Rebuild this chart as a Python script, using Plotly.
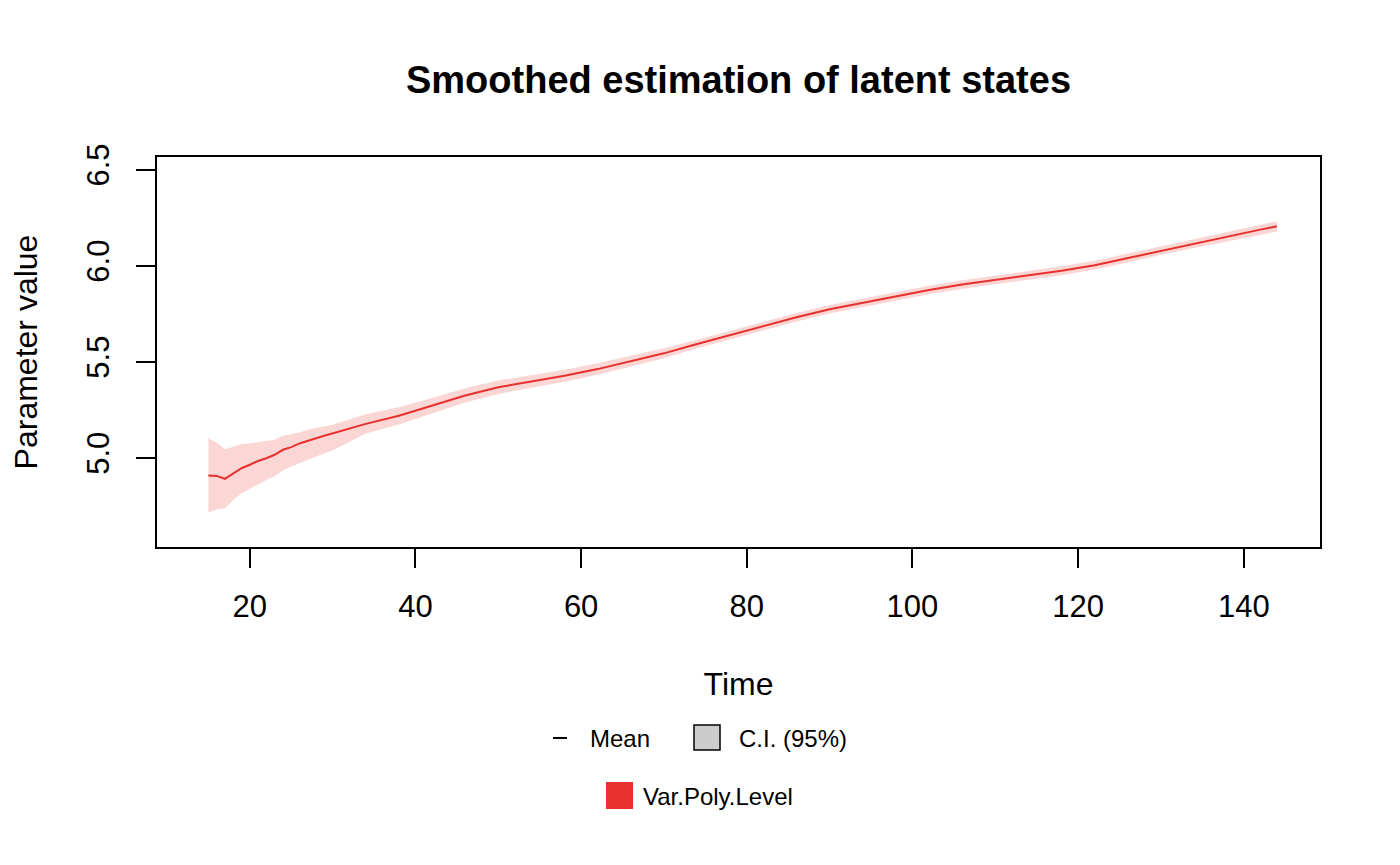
import plotly.graph_objects as go

# Smoothed latent state (Var.Poly.Level)
time = [15, 16, 17, 18, 19, 20, 21, 22, 23, 24, 25, 26, 27, 28, 29, 30,
        34, 38, 42, 46, 50, 54, 58, 62, 66, 70, 74, 78, 82, 86, 90, 94, 98,
        102, 106, 110, 114, 118, 122, 126, 130, 134, 138, 142, 144]
mean = [4.908, 4.906, 4.891, 4.920, 4.946, 4.964, 4.984, 4.998, 5.016, 5.042,
        5.056, 5.075, 5.090, 5.102, 5.115, 5.128,
        5.177, 5.219, 5.271, 5.325, 5.368, 5.398, 5.427, 5.462, 5.505, 5.544,
        5.593, 5.639, 5.687, 5.732, 5.774, 5.808, 5.841, 5.874, 5.902, 5.927,
        5.950, 5.974, 6.003, 6.040, 6.080, 6.116, 6.151, 6.188, 6.205]
upper = [5.102, 5.080, 5.045, 5.059, 5.071, 5.076, 5.082, 5.085, 5.094, 5.115,
         5.125, 5.132, 5.146, 5.155, 5.163, 5.172,
         5.227, 5.264, 5.311, 5.362, 5.403, 5.431, 5.458, 5.492, 5.533, 5.570,
         5.615, 5.661, 5.709, 5.754, 5.796, 5.830, 5.863, 5.896, 5.924, 5.949,
         5.973, 5.997, 6.026, 6.063, 6.103, 6.140, 6.176, 6.214, 6.232]
lower = [4.715, 4.733, 4.738, 4.781, 4.816, 4.842, 4.863, 4.885, 4.906, 4.934,
         4.955, 4.976, 4.993, 5.007, 5.024, 5.038,
         5.127, 5.174, 5.231, 5.288, 5.333, 5.365, 5.396, 5.432, 5.477, 5.518,
         5.571, 5.617, 5.665, 5.710, 5.752, 5.786, 5.819, 5.852, 5.880, 5.905,
         5.927, 5.951, 5.980, 6.017, 6.057, 6.092, 6.126, 6.162, 6.178]

x_ticks = [20, 40, 60, 80, 100, 120, 140]
y_ticks = [5.0, 5.5, 6.0, 6.5]

RED = "#E8302F"
FONT = "Liberation Sans, Arial, sans-serif"

fig = go.Figure()

# 95% band
fig.add_trace(go.Scatter(
    x=time + time[::-1],
    y=upper + lower[::-1],
    fill="toself",
    fillcolor="rgba(232,48,47,0.2)",
    line=dict(width=0),
    mode="lines",
    hoverinfo="skip",
    showlegend=False,
))

# mean line
fig.add_trace(go.Scatter(
    x=time, y=mean,
    mode="lines",
    line=dict(color=RED, width=2),
    showlegend=False,
))

# plot box in page pixels: x 157..1320, y 157..547 (page has an 8px body margin)
W, H, OFF = 1400, 865, 8
L, R, T, B = 157, 1320, 157, 547


def px(x):
    return (x - L) / (R - L)


def py(y):
    return (B - y) / (B - T)


fig.update_layout(
    width=W, height=H,
    margin=dict(l=L - OFF, r=W - R + OFF, t=T - OFF, b=H - B + OFF),
    plot_bgcolor="white",
    paper_bgcolor="white",
    font=dict(family=FONT, color="black", size=31),
    showlegend=False,
    title=dict(
        text="<b>Smoothed estimation of latent states</b>",
        x=px(738.5), xref="paper",
        y=1 - (80 - OFF) / H, yref="container",
        xanchor="center", yanchor="middle",
        font=dict(size=38, family=FONT, color="black"),
    ),
    xaxis=dict(
        range=[8.8, 149.2],
        tickvals=x_ticks,
        ticks="outside", ticklen=19, tickwidth=1.5, tickcolor="black",
        ticklabelstandoff=12,
        showline=True, linecolor="black", linewidth=1.5, mirror=True,
        showgrid=False, zeroline=False,
        tickfont=dict(size=31),
        title=dict(text="Time", font=dict(size=32), standoff=50),
    ),
    yaxis=dict(
        range=[4.536, 6.566],
        tickvals=y_ticks,
        tickformat=".1f",
        tickangle=-90,
        ticks="outside", ticklen=19, tickwidth=1.5, tickcolor="black",
        ticklabelstandoff=15,
        showline=True, linecolor="black", linewidth=1.5, mirror=True,
        showgrid=False, zeroline=False,
        tickfont=dict(size=31),
        title=dict(text="Parameter value", font=dict(size=32), standoff=38),
    ),
)

# legend drawn by hand below the plot, as in the original
fig.add_shape(type="line", xref="paper", yref="paper",
              x0=px(553), x1=px(567), y0=py(738), y1=py(738),
              line=dict(color="black", width=2))
fig.add_shape(type="rect", xref="paper", yref="paper",
              x0=px(694), x1=px(720), y0=py(750), y1=py(725),
              fillcolor="#CCCCCC", line=dict(color="black", width=1.5))
fig.add_shape(type="rect", xref="paper", yref="paper",
              x0=px(606), x1=px(633), y0=py(809), y1=py(782),
              fillcolor=RED, line=dict(width=0))

legend_items = [("Mean", 588, 738), ("C.I. (95%)", 737, 738),
                ("Var.Poly.Level", 641, 796)]
for label, lx, ly in legend_items:
    fig.add_annotation(text=label, xref="paper", yref="paper",
                       x=px(lx), y=py(ly), xanchor="left", yanchor="middle",
                       showarrow=False, font=dict(size=24, family=FONT))

fig.write_html("out.html")
